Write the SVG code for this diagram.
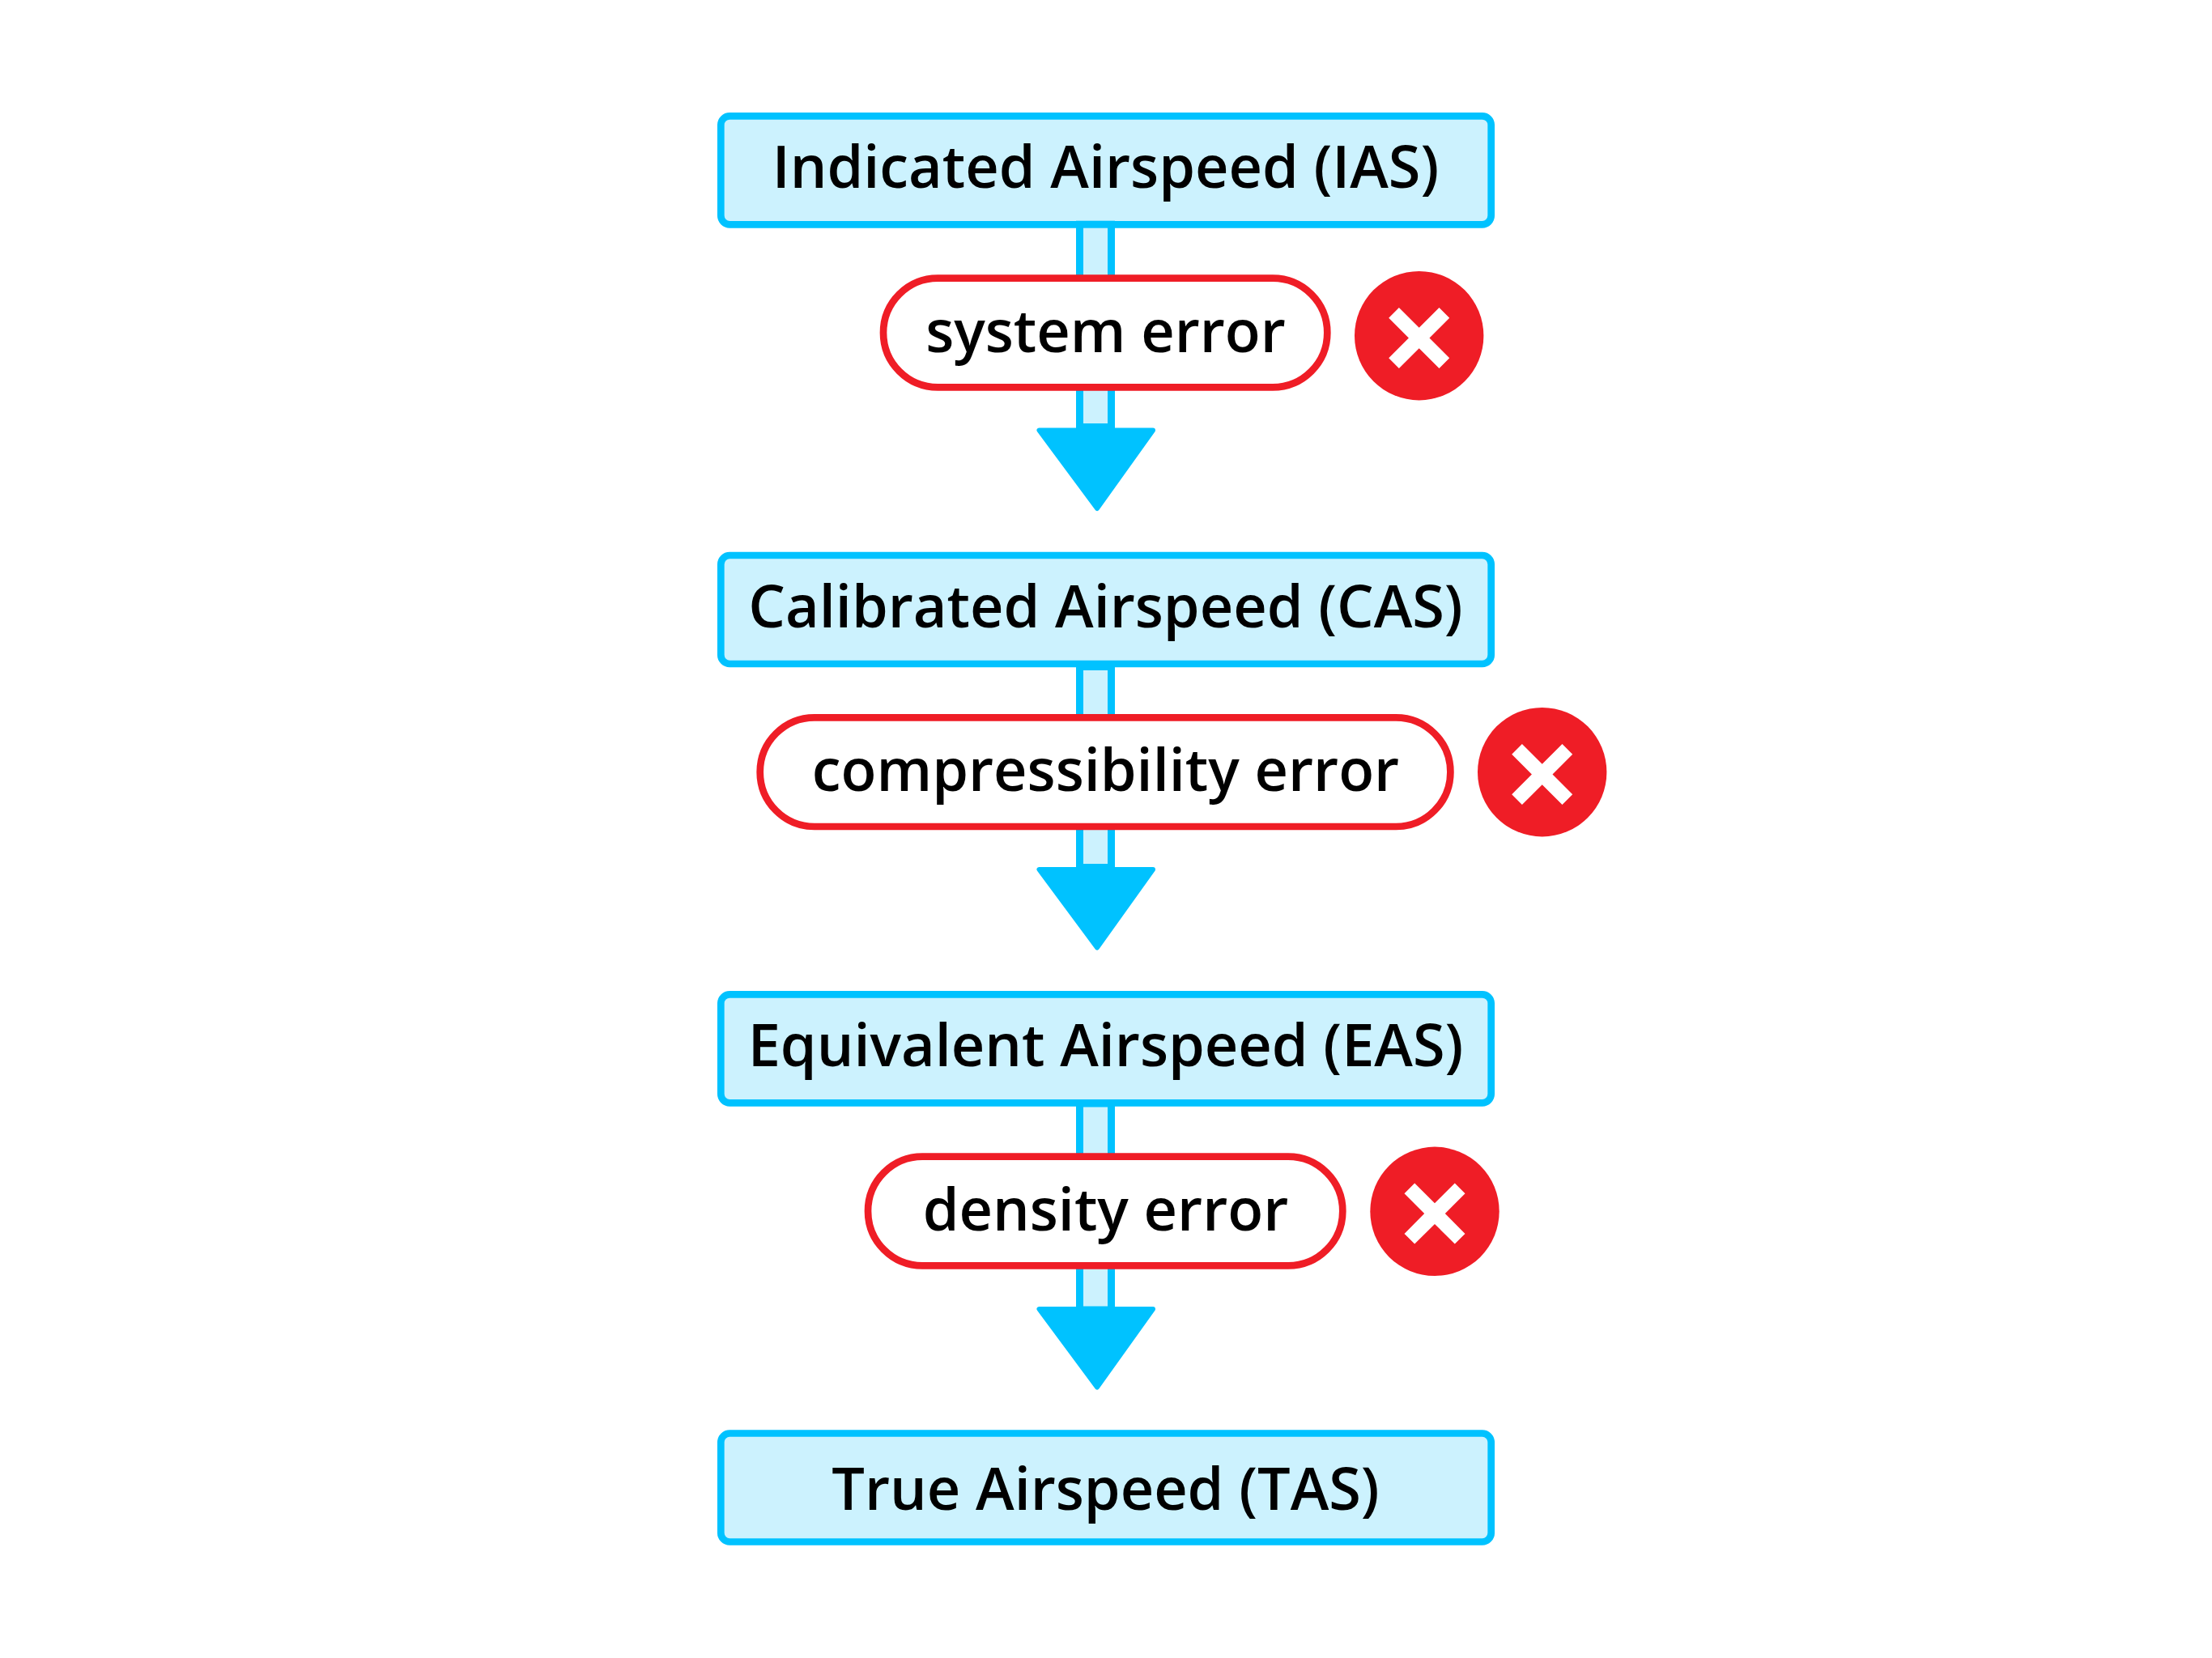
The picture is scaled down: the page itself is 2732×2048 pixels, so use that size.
<svg xmlns="http://www.w3.org/2000/svg" width="2732" height="2048" viewBox="0 0 2732 2048">
<defs>
<style>
.box{fill:#ccf2fe;stroke:#00c2ff;stroke-width:8.7}
.pill{fill:#fff;stroke:#ef1d26;stroke-width:8.7}
.shaft{fill:#ccf2fe;stroke:#00c2ff;stroke-width:9}
.head{fill:#00c2ff;stroke:#00c2ff;stroke-width:6;stroke-linejoin:round}
.bad{fill:#ef1d26}
.x{fill:#fff}
text{font-family:"Open Sans","Noto Sans",sans-serif;font-size:72px;font-weight:600;fill:#000;text-anchor:middle}
</style>
<g id="cross"><circle class="bad" cx="0" cy="0" r="79.700"/><path class="x" transform="translate(0,2.800)" d="M-37.500 -24.800 L-24.800 -37.500 L0 -12.800 L24.800 -37.500 L37.500 -24.800 L12.800 0 L37.500 24.800 L24.800 37.500 L0 12.800 L-24.800 37.500 L-37.500 24.800 L-12.800 0 Z"/></g>
<path id="head" class="head" d="M1283.500 531.500 H1424 L1355 628 Z"/>
</defs>
<rect width="2732" height="2048" fill="#fff"/>
<g id="ias"><rect class="box" x="890.300" y="143.300" width="951.400" height="134" rx="11"/><text x="1365.500" y="232.300">Indicated Airspeed (IAS)</text></g>
<g id="cas"><rect class="box" x="890.300" y="686" width="951.400" height="134" rx="11"/><text x="1365.500" y="775">Calibrated Airspeed (CAS)</text></g>
<g id="eas"><rect class="box" x="890.300" y="1228.300" width="951.400" height="134" rx="11"/><text x="1365.500" y="1317">Equivalent Airspeed (EAS)</text></g>
<g id="tas"><rect class="box" x="890.300" y="1770.500" width="951.400" height="134" rx="11"/><text x="1365.500" y="1865">True Airspeed (TAS)</text></g>
<g id="connectors">
<rect class="shaft" x="1333.500" y="277.200" width="39" height="250.300"/><use href="#head"/>
<rect class="shaft" x="1333.500" y="823.500" width="39" height="248"/><use href="#head" y="542.500"/>
<rect class="shaft" x="1333.500" y="1363" width="39" height="255"/><use href="#head" y="1085.500"/>
</g>
<g id="system"><rect class="pill" x="1091" y="343.700" width="548.300" height="134.700" rx="67.300"/><text x="1365.500" y="435">system error</text><use href="#cross" x="1752.700" y="414.700"/></g>
<g id="compress"><rect class="pill" x="938.700" y="886.300" width="852.700" height="134.700" rx="67.300"/><text x="1365.500" y="977">compressibility error</text><use href="#cross" x="1904.700" y="953.700"/></g>
<g id="density"><rect class="pill" x="1072" y="1428.700" width="586.300" height="134.700" rx="67.300"/><text x="1365.500" y="1519.700">density error</text><use href="#cross" x="1772" y="1496.300"/></g>
</svg>
